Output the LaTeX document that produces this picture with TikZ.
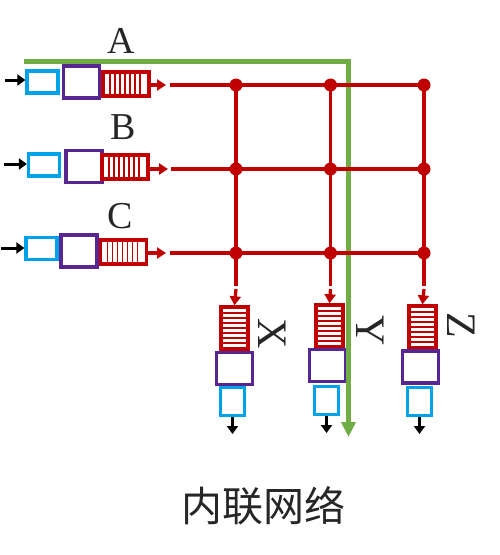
\documentclass[tikz,border=0pt]{standalone}
\usepackage{fontspec}
\setmainfont{Liberation Serif}
\newfontfamily\cjk{Noto Sans CJK SC}
\usetikzlibrary{arrows.meta}
\definecolor{bufblue}{RGB}{0,162,232}
\definecolor{rtpurple}{RGB}{88,38,145}
\definecolor{qred}{RGB}{192,0,0}
\definecolor{netgreen}{RGB}{112,173,71}
\definecolor{txtgray}{RGB}{38,38,38}
\begin{document}
\begin{tikzpicture}[x=1pt,y=-1pt,
    inbuf/.style={draw=bufblue,line width=3.2pt,inner sep=0pt,minimum width=31pt,minimum height=22pt},
    outbuf/.style={draw=bufblue,line width=3.2pt,inner sep=0pt,minimum width=24pt,minimum height=28pt},
    rtbox/.style={draw=rtpurple,line width=3.2pt,inner sep=0pt,minimum width=36pt,minimum height=32pt},
    hq/.style={draw=qred,line width=3.4pt,inner sep=0pt,minimum width=46pt,minimum height=24pt,
      path picture={\foreach \i in {7,12,...,37}
        \draw[qred,line width=1.8pt] ([xshift=\i pt]path picture bounding box.north west)
          -- ([xshift=\i pt]path picture bounding box.south west);}},
    vq/.style={draw=qred,line width=3.4pt,inner sep=0pt,minimum width=27pt,minimum height=42pt,
      path picture={\foreach \i in {6,11,...,36}
        \draw[qred,line width=1.8pt] ([yshift=-\i pt]path picture bounding box.north west)
          -- ([yshift=-\i pt]path picture bounding box.north east);}},
    dot/.style={circle,fill=qred,inner sep=0pt,minimum size=13pt},
    lbl/.style={text=txtgray,inner sep=0pt,font=\fontsize{38}{40}\selectfont},
    rlbl/.style={lbl,rotate=-90,font=\fontsize{42}{44}\selectfont},
    wire/.style={qred,line width=3.3pt},
    rarrow/.style={wire,-{Triangle[length=9pt,width=11pt]}},
    blk/.style={black,line width=3pt,-{Triangle[length=8pt,width=11pt]}},
    net/.style={netgreen,line width=4.8pt,-{Triangle[length=15pt,width=14pt]}}]
  \useasboundingbox (0,0) rectangle (500,555);
  % input ports
  \node[inbuf] (bA) at (42.5,82) {};
  \node[rtbox] (rA) at (81.5,82) {};
  \node[hq] (qA) at (126,84) {};
  \node[inbuf] (bB) at (44,165) {};
  \node[rtbox] (rB) at (84,166.5) {};
  \node[hq] (qB) at (125,167) {};
  \node[inbuf] (bC) at (41.5,248.5) {};
  \node[rtbox] (rC) at (79,251) {};
  \node[hq] (qC) at (123.5,252) {};
  % output ports
  \node[vq] (qX) at (234.5,328) {};
  \node[rtbox] (rX) at (234.5,368.5) {};
  \node[outbuf] (bX) at (232.5,401.5) {};
  \node[vq] (qY) at (329.5,326) {};
  \node[rtbox] (rY) at (327.5,365.5) {};
  \node[outbuf] (bY) at (326.5,400.5) {};
  \node[vq] (qZ) at (422.5,327) {};
  \node[rtbox] (rZ) at (420.5,367) {};
  \node[outbuf] (bZ) at (419.5,401.5) {};
  % labels
  \node[lbl] (lA) at (121,41) {A};
  \node[lbl] (lB) at (123,127) {B};
  \node[lbl] (lC) at (120,216) {C};
  \node[rlbl] (lX) at (272,334) {X};
  \node[rlbl] (lY) at (370,331) {Y};
  \node[rlbl] (lZ) at (461,325) {Z};
  \node[text=txtgray,inner sep=0pt,font=\cjk\fontsize{41}{44}\selectfont] (title) at (263.5,506) {内联网络};
  % green path
  \coordinate (g0) at (24,61.5);
  \coordinate (g1) at (348.5,61.5);
  \coordinate (g2) at (348.5,437);
  \draw[net] (g0) -- (g1) -- (g2);
  % crossbar
  \draw
    (236,85) node[dot] (AX){}
    (330.5,85) node[dot] (AY){}
    (424,85) node[dot] (AZ){}
    (236,169) node[dot] (BX){}
    (330.5,169) node[dot] (BY){}
    (424,169) node[dot] (BZ){}
    (236,253) node[dot] (CX){}
    (330.5,253) node[dot] (CY){}
    (424,253) node[dot] (CZ){};
  \coordinate (tA) at (166,85);
  \coordinate (sA) at (170,85);
  \coordinate (tB) at (168,169);
  \coordinate (sB) at (171,169);
  \coordinate (tC) at (166,253);
  \coordinate (sC) at (170,253);
  \coordinate (gX) at (236,286);
  \coordinate (hX) at (236,289);
  \coordinate (gY) at (330.5,286);
  \coordinate (hY) at (330.5,289);
  \coordinate (gZ) at (424,286);
  \coordinate (hZ) at (424,289);
  \begin{scope}[wire]
    \draw (sA) to (AZ.center);
    \draw (sB) to (BZ.center);
    \draw (sC) to (CZ.center);
    \draw (AX.center) to (gX);
    \draw (AY.center) to (gY);
    \draw (AZ.center) to (gZ);
  \end{scope}
  \draw[rarrow] (qA.east |- tA) -- (tA);
  \draw[rarrow] (qB.east |- tB) -- (tB);
  \draw[rarrow] (qC.east |- tC) -- (tC);
  \draw[rarrow] (hX) -- (qX.north);
  \draw[rarrow] (hY) -- (qY.north);
  \draw[rarrow] (hZ) -- (qZ.north);
  % in and out
  \coordinate (iA) at (5,80);
  \coordinate (iB) at (4,164);
  \coordinate (iC) at (1,248);
  \draw[blk] (iA) -- (iA -| bA.west);
  \draw[blk] (iB) -- (iB -| bB.west);
  \draw[blk] (iC) -- (iC -| bC.west);
  \coordinate (oX) at (232.5,434);
  \coordinate (oY) at (326.5,433);
  \coordinate (oZ) at (419.5,434);
  \draw[blk] (bX.south) -- (oX);
  \draw[blk] (bY.south) -- (oY);
  \draw[blk] (bZ.south) -- (oZ);
\end{tikzpicture}
\end{document}
